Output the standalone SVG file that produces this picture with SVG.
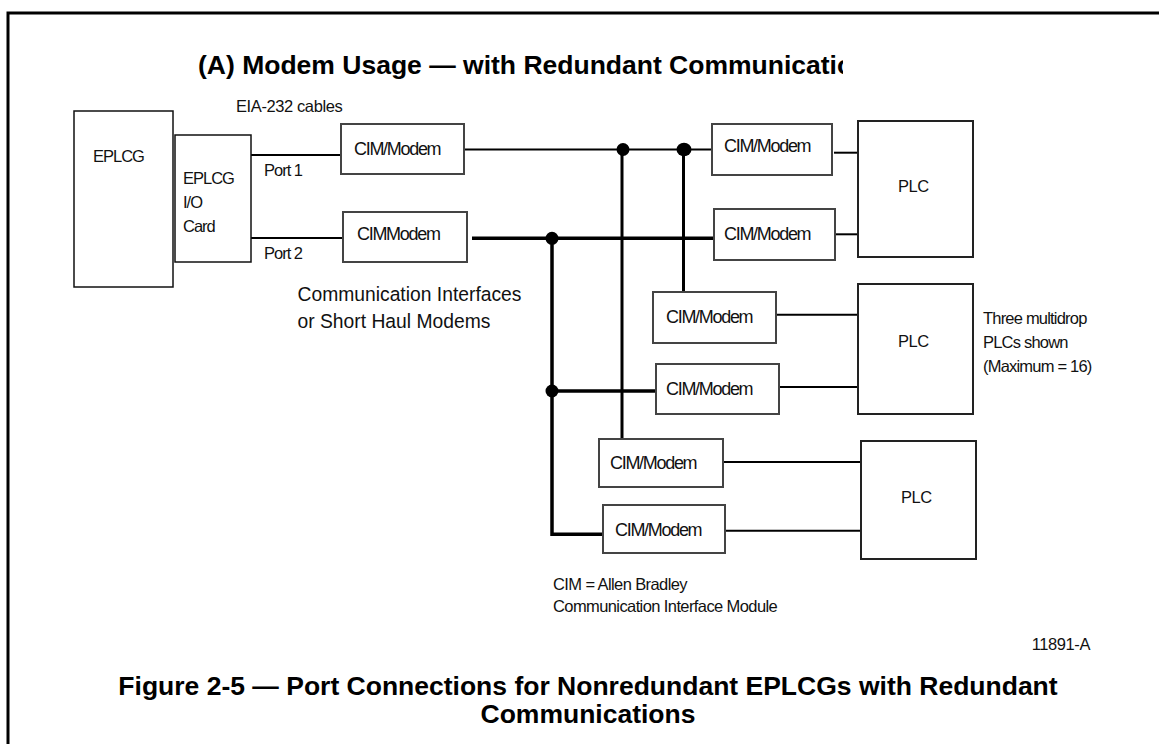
<svg xmlns="http://www.w3.org/2000/svg" width="1159" height="744" viewBox="0 0 1159 744">
<style>
  text { font-family: "Liberation Sans", Arial, sans-serif; fill: #111; }
  .lbl { font-size: 16.5px; letter-spacing: -1px; }
  .cim { font-size: 18px; letter-spacing: -1.3px; }
  .note { font-size: 16.5px; letter-spacing: -0.6px; }
  .big { font-size: 19.3px; }
  .title { font-size: 26.5px; font-weight: bold; fill: #000; }
  .box { fill: #fff; stroke: #111; stroke-width: 1.5; }
  .cbox { fill: #fff; stroke: #444; stroke-width: 2; }
  .pbox { fill: #fff; stroke: #222; stroke-width: 2; }
  .thin { stroke: #000; stroke-width: 2; fill: none; }
  .bus { stroke: #000; stroke-width: 3; fill: none; }
  .busb { stroke: #000; stroke-width: 3.5; fill: none; }
  .dot { fill: #000; }
</style>
<defs>
  <clipPath id="titleClip"><rect x="0" y="0" width="843" height="120"/></clipPath>
</defs>
<rect width="1159" height="744" fill="#fff"/>
<rect x="8" y="13" width="1200" height="800" fill="none" stroke="#000" stroke-width="3"/>

<text class="title" x="198" y="74" clip-path="url(#titleClip)">(A) Modem Usage — with Redundant Communications</text>

<g id="connectors">
  <line class="thin" x1="251" y1="155" x2="341" y2="155"/>
  <line class="thin" x1="251" y1="238" x2="343" y2="238"/>
  <line class="thin" x1="464" y1="149.5" x2="712" y2="149.5"/>
  <line class="bus" x1="622" y1="149.5" x2="622" y2="439"/>
  <line class="bus" x1="683.5" y1="149.5" x2="683.5" y2="292"/>
  <line class="busb" x1="472" y1="238.3" x2="719" y2="238.3"/>
  <polyline class="busb" points="552,238.3 552,534.3 603,534.3"/>
  <line class="busb" x1="552" y1="391" x2="656" y2="391"/>
  <circle class="dot" cx="623" cy="149.5" r="6.5"/>
  <ellipse class="dot" cx="684" cy="149.5" rx="7.5" ry="6.8"/>
  <circle class="dot" cx="552" cy="238.3" r="6.5"/>
  <circle class="dot" cx="552" cy="391" r="6.5"/>
  <line class="thin" x1="834" y1="152.7" x2="857" y2="152.7"/>
  <line class="thin" x1="833" y1="234.3" x2="857" y2="234.3"/>
  <line class="thin" x1="776" y1="314.7" x2="857" y2="314.7"/>
  <line class="thin" x1="780" y1="387" x2="857" y2="387"/>
  <line class="thin" x1="724" y1="462" x2="860" y2="462"/>
  <line class="thin" x1="725" y1="530.7" x2="860" y2="530.7"/>
</g>

<g id="eplcg">
  <rect class="box" x="74" y="111" width="99" height="176"/>
  <text class="lbl" x="93" y="162">EPLCG</text>
</g>
<g id="iocard">
  <rect class="box" x="175" y="135" width="76" height="127"/>
  <text class="lbl" x="183" y="184">EPLCG</text>
  <text class="lbl" x="183" y="208">I/O</text>
  <text class="lbl" x="183" y="232">Card</text>
</g>
<g id="cim1">
  <rect class="cbox" x="341" y="124" width="123" height="50"/>
  <text class="cim" x="354" y="155">CIM/Modem</text>
</g>
<g id="cim2">
  <rect class="cbox" x="343" y="212" width="124" height="50"/>
  <text class="cim" x="357" y="240">CIMModem</text>
</g>
<g id="cim3">
  <rect class="cbox" x="712" y="124" width="120" height="51"/>
  <text class="cim" x="724" y="152">CIM/Modem</text>
</g>
<g id="cim4">
  <rect class="cbox" x="714" y="209" width="121" height="51"/>
  <text class="cim" x="724" y="240">CIM/Modem</text>
</g>
<g id="cim5">
  <rect class="cbox" x="653" y="292" width="123" height="51"/>
  <text class="cim" x="666" y="323">CIM/Modem</text>
</g>
<g id="cim6">
  <rect class="cbox" x="656" y="364" width="123" height="50"/>
  <text class="cim" x="666" y="395">CIM/Modem</text>
</g>
<g id="cim7">
  <rect class="cbox" x="599" y="439" width="124" height="48"/>
  <text class="cim" x="610" y="469">CIM/Modem</text>
</g>
<g id="cim8">
  <rect class="cbox" x="603" y="505" width="122" height="48"/>
  <text class="cim" x="615" y="536">CIM/Modem</text>
</g>
<g id="plc1">
  <rect class="pbox" x="858" y="121" width="115" height="136"/>
  <text class="lbl" x="898" y="192" style="letter-spacing:-0.5px">PLC</text>
</g>
<g id="plc2">
  <rect class="pbox" x="858" y="284" width="115" height="130"/>
  <text class="lbl" x="898" y="347" style="letter-spacing:-0.5px">PLC</text>
</g>
<g id="plc3">
  <rect class="pbox" x="861" y="441" width="115" height="118"/>
  <text class="lbl" x="901" y="503" style="letter-spacing:-0.5px">PLC</text>
</g>

<g id="labels">
  <text class="note" x="236" y="112" style="letter-spacing:-0.4px">EIA-232 cables</text>
  <text class="lbl" x="264" y="176">Port 1</text>
  <text class="lbl" x="264" y="259">Port 2</text>
  <text class="big" x="297.5" y="301">Communication Interfaces</text>
  <text class="big" x="297.5" y="328">or Short Haul Modems</text>
  <text class="note" x="983" y="324" style="letter-spacing:-0.8px">Three multidrop</text>
  <text class="note" x="983" y="348" style="letter-spacing:-0.8px">PLCs shown</text>
  <text class="note" x="983" y="372" style="letter-spacing:-0.8px">(Maximum = 16)</text>
  <text class="note" x="553" y="590">CIM = Allen Bradley</text>
  <text class="note" x="553" y="612">Communication Interface Module</text>
  <text class="note" x="1090" y="650" text-anchor="end" style="letter-spacing:-0.4px">11891-A</text>
</g>

<text class="title" x="588" y="695" text-anchor="middle">Figure 2-5 — Port Connections for Nonredundant EPLCGs with Redundant</text>
<text class="title" x="588" y="723" text-anchor="middle">Communications</text>
</svg>
